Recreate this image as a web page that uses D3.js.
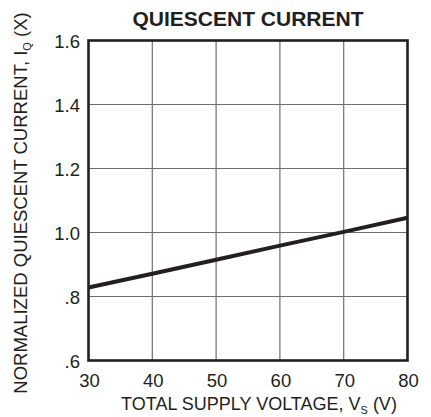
<!DOCTYPE html>
<html><head><meta charset="utf-8">
<script src="https://cdn.jsdelivr.net/npm/d3@7"></script>
<style>body{margin:0;background:#fff}text{font-family:"Liberation Sans",Arial,sans-serif;fill:#231f20}</style>
</head><body>
<script>
const voltages = [30, 40, 50, 60, 70, 80];
const current = [0.828, 0.871, 0.915, 0.959, 1.002, 1.046];
const xTicks = [30, 40, 50, 60, 70, 80];
const yTicks = [0.6, 0.8, 1.0, 1.2, 1.4, 1.6];
const yTickLabels = [".6", ".8", "1.0", "1.2", "1.4", "1.6"];

const W = 431, H = 417;
const L = 88.5, R = 407.5, T = 40.5, B = 360.5;
const svg = d3.select("body").append("svg").attr("width", W).attr("height", H);
const x = d3.scaleLinear().domain([30, 80]).range([L, R]);
const y = d3.scaleLinear().domain([0.6, 1.6]).range([B, T]);

// grid
svg.append("g").selectAll("line").data(xTicks.slice(1, -1)).join("line")
  .attr("x1", d => x(d)).attr("x2", d => x(d)).attr("y1", T).attr("y2", B)
  .attr("stroke", "#6d6e71").attr("stroke-width", 1.2);
svg.append("g").selectAll("line").data(yTicks.slice(1, -1)).join("line")
  .attr("y1", d => y(d)).attr("y2", d => y(d)).attr("x1", L).attr("x2", R)
  .attr("stroke", "#6d6e71").attr("stroke-width", 1.2);

// data line
svg.append("path").datum(voltages.map((v, i) => [v, current[i]]))
  .attr("d", d3.line().x(d => x(d[0])).y(d => y(d[1])))
  .attr("fill", "none").attr("stroke", "#231f20").attr("stroke-width", 4);

// frame
svg.append("rect").attr("x", L).attr("y", T).attr("width", R - L).attr("height", B - T)
  .attr("fill", "none").attr("stroke", "#231f20").attr("stroke-width", 2.6);

// tick labels
svg.append("g").selectAll("text").data(xTicks).join("text")
  .attr("x", d => x(d) + 1).attr("y", 387).attr("text-anchor", "middle")
  .attr("font-size", 18.5).text(d => d);
svg.append("g").selectAll("text").data(yTicks).join("text")
  .attr("x", 80).attr("y", d => y(d) + 7).attr("text-anchor", "end")
  .attr("font-size", 18.5).text((d, i) => yTickLabels[i]);

// title
svg.append("text").attr("x", 248).attr("y", 26).attr("text-anchor", "middle")
  .attr("font-size", 21).attr("font-weight", "bold").text("QUIESCENT CURRENT");

// x axis title
const xt = svg.append("text").attr("x", 259).attr("y", 410).attr("text-anchor", "middle").attr("font-size", 18);
xt.append("tspan").text("TOTAL SUPPLY VOLTAGE, V");
xt.append("tspan").attr("font-size", 11).attr("dy", 4).text("S");
xt.append("tspan").attr("dy", -4).text(" (V)");

// y axis title
const yt = svg.append("text").attr("transform", `translate(27,203) rotate(-90)`)
  .attr("text-anchor", "middle").attr("font-size", 18.5);
yt.append("tspan").text("NORMALIZED QUIESCENT CURRENT, I");
yt.append("tspan").attr("font-size", 11).attr("dy", 4).text("Q");
yt.append("tspan").attr("dy", -4).text(" (X)");
</script>
</body></html>
